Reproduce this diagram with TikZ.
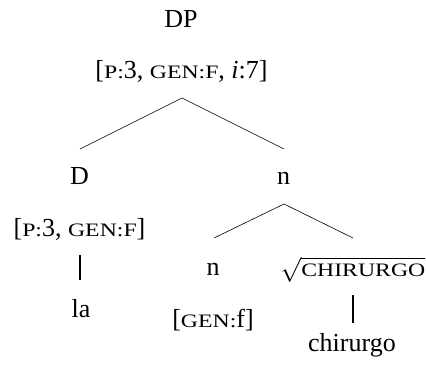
\documentclass[tikz,border=0pt]{standalone}
\usepackage{fontspec}
\setmainfont{Liberation Serif}
\newfontfamily\scfam[FakeStretch=1.25]{Liberation Serif}
\usetikzlibrary{calc}
\newcommand\fsc[1]{{\scfam\fontsize{19}{20}\selectfont #1}}
\begin{document}
\begin{tikzpicture}[x=1pt,y=1pt,
  lbl/.style={font=\fontsize{26}{30}\selectfont, inner sep=0pt, anchor=base},
  branch/.style={line width=0.6pt},
  bar/.style={line width=1.8pt}]
\useasboundingbox (0,0) rectangle (426,367);
\node[lbl] (DP) at (181,339.5) {DP};
\node[lbl] (dpf) at (181.5,288) {[\fsc{P:}3, \fsc{GEN:F}, \textit{i}:7]};
\node[lbl] (D) at (79.5,182) {D};
\node[lbl] (n1) at (283.5,182) {n};
\node[lbl] (df) at (79.5,130) {[\fsc{P:}3, \fsc{GEN:F}]};
\node[lbl] (la) at (81,49) {la};
\node[lbl] (n2) at (213,91) {n};
\node[lbl] (gf) at (213,39) {[\fsc{GEN:}f]};
\node[lbl] (root) at (353,90) {$\sqrt{\mbox{\fsc{CHIRURGO}}}$};
\node[lbl] (chir) at (352,15) {chirurgo};
\draw[branch] ($(dpf.base)+(0.5,-19)$) -- ($(D.base)+(0.5,36)$);
\draw[branch] ($(dpf.base)+(0.5,-19)$) -- ($(n1.base)+(0.5,36)$);
\draw[branch] ($(n1.base)+(0.5,-19)$) -- ($(n2.base)+(1,38)$);
\draw[branch] ($(n1.base)+(0.5,-19)$) -- ($(root.base)+(0,39)$);
\draw[bar] ($(df.base)+(0.5,-18)$) -- ($(la.base)+(-1,38)$);
\draw[bar] ($(root.base)+(0,-18)$) -- ($(chir.base)+(1,29)$);
\end{tikzpicture}
\end{document}
